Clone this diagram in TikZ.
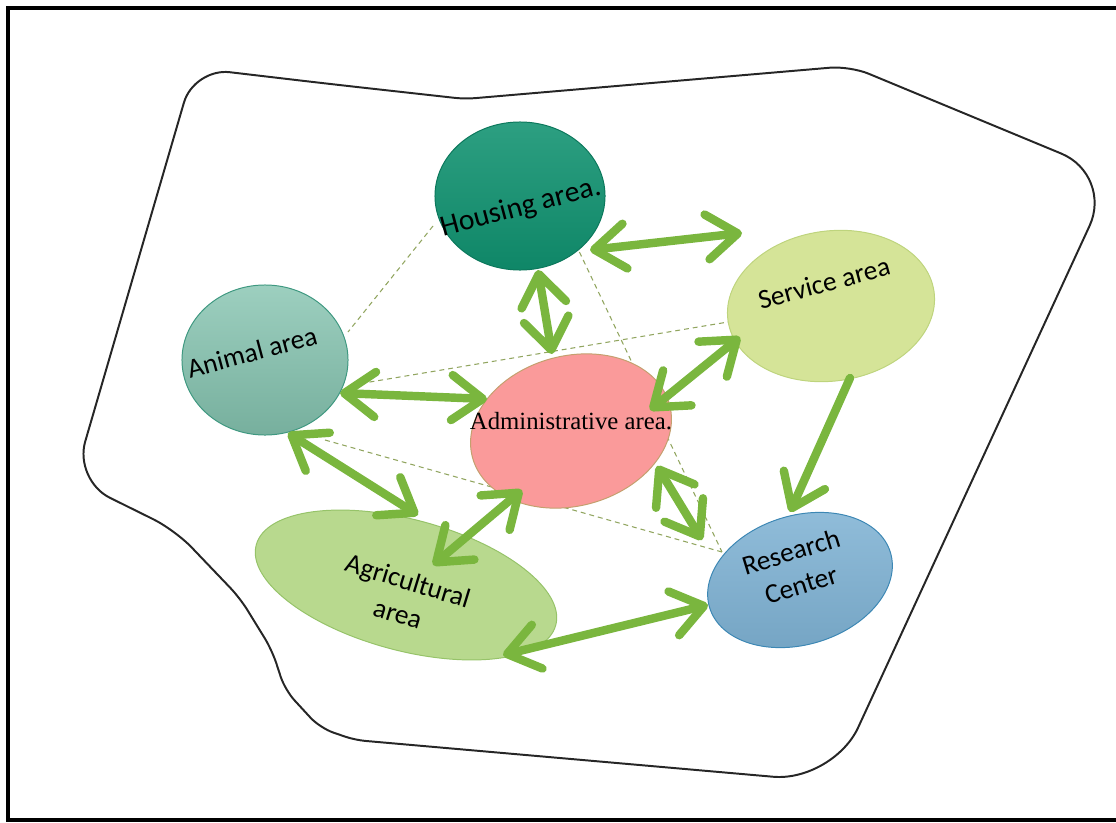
\documentclass[tikz,border=0pt]{standalone}
\usepackage{fontspec}
\newfontfamily\calfont{Carlito}
\newfontfamily\timesfont{Liberation Serif}
\usepackage{xcolor}
\usepackage{tikz}
\usetikzlibrary{arrows.meta,shapes.geometric,backgrounds,positioning}
\definecolor{housefill}{RGB}{16,146,112}
\definecolor{housedraw}{RGB}{12,120,92}
\definecolor{animalfill}{RGB}{132,195,175}
\definecolor{animaldraw}{RGB}{62,152,128}
\definecolor{adminfill}{RGB}{250,154,154}
\definecolor{admindraw}{RGB}{196,160,110}
\definecolor{servicefill}{RGB}{213,228,152}
\definecolor{servicedraw}{RGB}{190,212,125}
\definecolor{agrifill}{RGB}{184,217,142}
\definecolor{agridraw}{RGB}{150,195,105}
\definecolor{researchfill}{RGB}{126,178,212}
\definecolor{researchdraw}{RGB}{60,135,180}
\definecolor{arrowgreen}{RGB}{122,182,62}
\definecolor{guidegreen}{RGB}{145,165,95}
\tikzset{
  zone/.style={ellipse,inner sep=0pt,line width=0.7pt},
  areatxt/.style={font=\calfont\fontsize{19.5}{24.5}\selectfont,align=center,inner sep=0pt},
  twoway/.style={draw=arrowgreen,line width=6pt,{Straight Barb[length=22pt,width=32pt,round]}-{Straight Barb[length=22pt,width=32pt,round]}},
  oneway/.style={draw=arrowgreen,line width=6pt,line cap=round,-{Straight Barb[length=22pt,width=32pt,round]}},
  guide/.style={draw=guidegreen,dash pattern=on 3.5pt off 2.8pt,line width=0.75pt},
  site/.style={draw=black!85,line width=1.4pt},
  sheet/.style={draw=black,line width=2.2pt}
}
\begin{document}
\begin{tikzpicture}[x=0.025cm,y=-0.025cm]
\useasboundingbox (0,0) rectangle (1116,822);
\draw[sheet] (8,8) rectangle (1130,820);
% site boundary
\draw[site] (330,84) [rounded corners=0.25cm] -- (465,99) [rounded corners=0.5cm] -- (850,66)
  [rounded corners=1.4cm] -- (1113,175) [rounded corners=1.5cm] -- (833,782)
  [rounded corners=0.25cm] -- (355,740) [rounded corners=0.35cm] -- (320,728)
  -- (285,690) -- (272,650) -- (240,598) [rounded corners=0.6cm] -- (175,530)
  [rounded corners=1cm] -- (74,480) [rounded corners=0.9cm] -- (194,68) -- cycle;
% areas
\node[zone,minimum width=4.25cm,minimum height=3.7cm,top color=housefill!88!white,bottom color=housefill!92!black,draw=housedraw] (housing) at (520,196) {};
\node[zone,minimum width=4.15cm,minimum height=3.75cm,top color=animalfill!80!white,bottom color=animalfill!90!black,draw=animaldraw] (animal) at (265,360) {};
\node[zone,minimum width=5.1cm,minimum height=3.75cm,rotate=15,fill=adminfill,draw=admindraw] (admin) at (571,431) {};
\node[zone,minimum width=5.2cm,minimum height=3.75cm,rotate=8,fill=servicefill,draw=servicedraw] (service) at (831,306) {};
\node[zone,minimum width=7.75cm,minimum height=3.275cm,rotate=-15,fill=agrifill,draw=agridraw] (agri) at (406,585) {};
\node[zone,minimum width=4.725cm,minimum height=3.225cm,rotate=17,top color=researchfill!85!white,bottom color=researchfill!92!black,draw=researchdraw] (research) at (800,580) {};
% names
\node[areatxt,rotate=15,font=\calfont\fontsize{21}{25}\selectfont] (housingtxt) at (521,208) {Housing area.};
\node[areatxt,rotate=15] (animaltxt) at (252,352) {Animal area};
\node[inner sep=0pt,font=\timesfont\fontsize{17.6}{21}\selectfont] (admintxt) at (571,421) {Administrative area.};
\node[areatxt,rotate=15] (servicetxt) at (824,283) {Service area};
\node[areatxt,rotate=-17] (agritxt) at (403,597) {Agricultural\\area};
\node[areatxt,rotate=17] (researchtxt) at (796,568) {Research\\Center};
% guide lines behind the areas
\begin{pgfonlayer}{background}
\draw[guide] ([shift={(-87,30)}]housing.center) -- ([shift={(83,-28)}]animal.center);
\draw[guide] ([shift={(48,32)}]housing.center) -- ([shift={(-78,-28)}]research.center);
\draw[guide] ([shift={(87,25)}]animal.center) -- ([shift={(-103,16)}]service.center);
\draw[guide] ([shift={(60,80)}]animal.center) -- ([shift={(-78,-28)}]research.center);
\end{pgfonlayer}
% flows
\draw[twoway] ([shift={(70,54)}]housing.center) -- ([shift={(-89,-73)}]service.center);
\draw[twoway] ([shift={(18,74)}]housing.center) -- ([shift={(-19,-77)}]admin.center);
\draw[twoway] ([shift={(75,33)}]animal.center) -- ([shift={(-84,-32)}]admin.center);
\draw[twoway] ([shift={(-91,31)}]service.center) -- ([shift={(79,-21)}]admin.center);
\draw[oneway] ([shift={(19,72)}]service.center) -- ([shift={(-10,-68)}]research.center);
\draw[twoway] ([shift={(23,73)}]animal.center) -- ([shift={(12,-70)}]agri.center);
\draw[twoway] ([shift={(-49,59)}]admin.center) -- ([shift={(27,-20)}]agri.center);
\draw[twoway] ([shift={(86,35)}]admin.center) -- ([shift={(-98,-40)}]research.center);
\draw[twoway] ([shift={(97,70)}]agri.center) -- ([shift={(-92,25)}]research.center);
\end{tikzpicture}
\end{document}
